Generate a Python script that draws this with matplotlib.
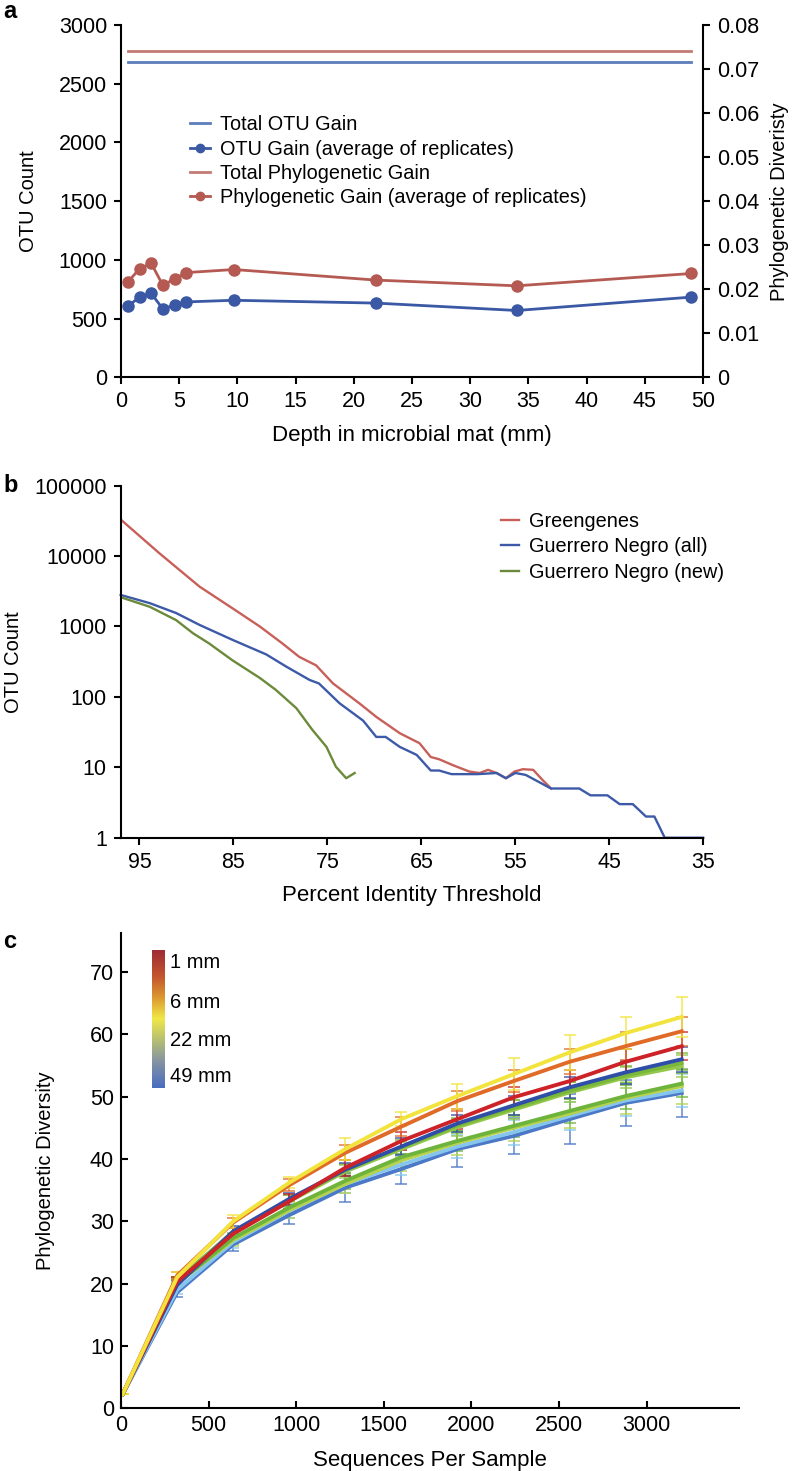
import numpy as np
import matplotlib
matplotlib.use("Agg")
import matplotlib.pyplot as plt
from matplotlib.colors import LinearSegmentedColormap, to_rgba
from matplotlib.lines import Line2D
from matplotlib.ticker import FixedLocator, FixedFormatter, NullLocator

plt.rcParams['font.family'] = ['Liberation Sans', 'DejaVu Sans']
plt.rcParams['font.size'] = 14

# ---- panel a: gain by depth ----
depth_mm = [0.6, 1.6, 2.6, 3.6, 4.6, 5.6, 9.7, 21.9, 34.0, 49.0]
otu_gain = [605, 686, 715, 583, 617, 643, 657, 633, 570, 684]
phylo_gain = [0.0217, 0.0247, 0.0259, 0.0209, 0.0224, 0.0238, 0.0245, 0.0221, 0.0208, 0.0236]
total_otu_gain = 2685
total_phylo_gain = 0.0741

# ---- panel b: OTU count vs identity threshold ----
gg_pid = [97, 92.9, 88.6, 85.1, 82.2, 79.8, 78.0, 76.2, 74.4, 71.6, 69.8, 67.3, 65.2,
          64.0, 63.1, 61.7, 59.9, 58.8, 57.9, 57.0, 56.0, 55.1, 54.2, 53.1, 52.1, 51.2]
gg_otu = [33000, 11000, 3670, 1810, 1000, 575, 370, 280, 155, 81, 52, 30.5, 22,
          14, 13, 10.8, 8.7, 8.3, 9.2, 8.3, 7.0, 8.7, 9.4, 9.2, 6.6, 5.0]
gn_all_pid = [97, 93.9, 91.1, 88.6, 85.1, 81.5, 79.4, 76.9, 75.9, 73.7, 71.2, 69.8, 68.8,
              67.3, 65.5, 64.0, 63.1, 61.8, 59.0, 57.0, 56.0, 55.0, 53.9, 51.2, 48.2, 47.0,
              45.2, 43.9, 42.5, 41.1, 40.2, 39.1, 35]
gn_all_otu = [2800, 2140, 1550, 1050, 645, 400, 270, 174, 155, 81, 46, 27, 27,
              19.5, 15, 9, 9, 8, 8, 8.3, 7, 8.3, 7.8, 5, 5, 4,
              4, 3, 3, 2, 2, 1, 1]
gn_new_pid = [97, 93.9, 91.1, 89.3, 87.6, 85.1, 82.2, 80.5, 78.3, 76.6, 75.1, 74.1, 73.0, 72.1]
gn_new_otu = [2600, 1900, 1230, 800, 575, 330, 186, 126, 69, 34, 19.5, 10.2, 7.0, 8.3]

# ---- panel c: rarefaction curves ----
seqs = [10, 320, 640, 960, 1280, 1600, 1920, 2240, 2560, 2880, 3200]
pd_blue = [2.3, 18.6, 26.3, 31.0, 35.4, 38.4, 41.6, 43.7, 46.4, 49.0, 50.6]
pd_lightblue = [2.3, 19.0, 26.7, 31.7, 36.0, 39.1, 42.0, 44.3, 46.9, 49.4, 51.0]
pd_yellowgreen = [2.3, 20.1, 27.0, 31.8, 36.0, 39.8, 42.6, 45.0, 47.3, 49.8, 51.7]
pd_lowgreen = [2.3, 20.0, 27.3, 32.2, 36.5, 40.3, 42.9, 45.3, 47.7, 50.1, 52.1]
pd_greenb = [2.3, 20.4, 28.1, 33.2, 38.0, 41.6, 45.1, 47.9, 50.7, 53.1, 54.9]
pd_greena = [2.3, 20.6, 28.3, 33.4, 38.2, 41.9, 45.4, 48.2, 51.0, 53.4, 55.4]
pd_darkblue = [2.3, 19.8, 28.4, 33.6, 38.3, 42.0, 45.7, 48.6, 51.5, 53.9, 56.0]
pd_red = [2.3, 20.3, 28.0, 33.2, 38.6, 42.9, 46.4, 49.9, 52.5, 55.6, 58.1]
pd_orange = [2.3, 21.3, 29.8, 35.8, 41.0, 45.2, 49.3, 52.5, 55.6, 58.1, 60.5]
pd_yellow = [2.3, 21.0, 30.0, 36.2, 41.6, 46.4, 50.1, 53.6, 57.1, 60.2, 62.8]

err_blue = [0, 0.8, 1.0, 1.4, 2.3, 2.4, 2.9, 2.9, 4.0, 3.7, 3.8]
err_lightblue = [0, 0.7, 0.9, 1.1, 1.4, 1.6, 1.8, 2.0, 2.3, 2.5, 2.7]
err_yellowgreen = [0, 0.8, 1.0, 1.3, 1.5, 1.7, 1.9, 2.1, 2.3, 2.5, 2.8]
err_lowgreen = [0, 0.7, 0.9, 1.1, 1.3, 1.5, 1.6, 1.8, 1.9, 2.1, 2.2]
err_greenb = [0, 0.6, 0.8, 1.0, 1.1, 1.2, 1.4, 1.5, 1.6, 1.7, 1.8]
err_greena = [0, 0.5, 0.7, 0.9, 1.0, 1.1, 1.2, 1.3, 1.4, 1.5, 1.6]
err_darkblue = [0, 0.6, 0.8, 1.0, 1.1, 1.3, 1.4, 1.5, 1.7, 1.8, 2.0]
err_red = [0, 0.7, 0.9, 1.2, 1.3, 1.5, 1.6, 1.7, 1.8, 2.0, 2.2]
err_orange = [0, 0.6, 0.8, 1.0, 1.2, 1.5, 1.6, 1.8, 2.0, 2.2, 2.3]
err_yellow = [0, 0.8, 1.0, 0.9, 1.7, 1.1, 2.0, 2.6, 2.8, 2.6, 3.2]

depth_labels = ['1 mm', '6 mm', '22 mm', '49 mm']

BLUE = '#3a58a4'
BLUE_L = '#5d7cbc'
RED = '#b45a52'
RED_L = '#c47a74'
SPW = 1.5
TICK_FS = 15.5
XLAB_FS = 16
YLAB_FS = 14.5
LEG_FS = 14.3


def style_axis(ax, direction='out'):
    for s in ['top', 'right']:
        ax.spines[s].set_visible(False)
    for s in ['left', 'bottom']:
        ax.spines[s].set_linewidth(SPW)
    ax.tick_params(direction=direction, length=5, width=SPW, labelsize=TICK_FS, pad=5)


fig = plt.figure(figsize=(7.96, 14.71), dpi=100)

# ================= a =================
ax_a = fig.add_axes([0.152, 0.7434, 0.7312, 0.2396])
ax_a2 = ax_a.twinx()
style_axis(ax_a)
ax_a2.spines['top'].set_visible(False)
ax_a2.spines['left'].set_visible(False)
ax_a2.spines['bottom'].set_visible(False)
ax_a2.spines['right'].set_linewidth(SPW)
ax_a2.tick_params(direction='out', length=5, width=SPW, labelsize=TICK_FS, pad=5)

ax_a.plot([depth_mm[0], depth_mm[-1]], [total_otu_gain] * 2, color=BLUE_L, lw=2)
ax_a.plot(depth_mm, otu_gain, color=BLUE, lw=2, marker='o', ms=8)
ax_a2.plot([depth_mm[0], depth_mm[-1]], [total_phylo_gain] * 2, color=RED_L, lw=2)
ax_a2.plot(depth_mm, phylo_gain, color=RED, lw=2, marker='o', ms=8)

ax_a.set_xlim(0, 50)
ax_a.set_ylim(0, 3000)
ax_a2.set_ylim(0, 0.08)
ax_a.set_xticks(np.arange(0, 51, 5))
ax_a.set_yticks(np.arange(0, 3001, 500))
ax_a2.set_yticks(np.arange(0, 0.081, 0.01))
ax_a2.set_yticklabels(['0'] + ['%.2f' % v for v in np.arange(0.01, 0.081, 0.01)])
ax_a.set_xlabel('Depth in microbial mat (mm)', fontsize=XLAB_FS)
ax_a.xaxis.set_label_coords(0.5, -0.135)
ax_a.set_ylabel('OTU Count', fontsize=YLAB_FS)
ax_a.yaxis.set_label_coords(-0.143, 0.5)
ax_a2.set_ylabel('Phylogenetic Diveristy', fontsize=YLAB_FS)
ax_a2.yaxis.set_label_coords(1.115, 0.5)

handles = [
    Line2D([], [], color=BLUE_L, lw=2),
    Line2D([], [], color=BLUE, lw=2, marker='o', ms=6),
    Line2D([], [], color=RED_L, lw=2),
    Line2D([], [], color=RED, lw=2, marker='o', ms=6),
]
labels = ['Total OTU Gain', 'OTU Gain (average of replicates)',
          'Total Phylogenetic Gain', 'Phylogenetic Gain (average of replicates)']
ax_a2.legend(handles, labels, loc='upper left', bbox_to_anchor=(0.105, 0.766),
             frameon=False, fontsize=LEG_FS, handlelength=1.0, handletextpad=0.5,
             labelspacing=0.26, borderaxespad=0)

# ================= b =================
ax_b = fig.add_axes([0.1516, 0.4305, 0.7319, 0.2394])
style_axis(ax_b)
ax_b.plot(gg_pid, gg_otu, color='#c8605a', lw=1.7, label='Greengenes')
ax_b.plot(gn_all_pid, gn_all_otu, color='#3d5aa8', lw=1.7, label='Guerrero Negro (all)',
          clip_on=False)
ax_b.plot(gn_new_pid, gn_new_otu, color='#6b8a3a', lw=1.7, label='Guerrero Negro (new)')
ax_b.set_yscale('log')
ax_b.set_ylim(1, 100000)
ax_b.set_xlim(97, 35)
ax_b.set_xticks(np.arange(95, 34, -10))
ax_b.yaxis.set_major_locator(FixedLocator([1, 10, 100, 1000, 10000, 100000]))
ax_b.yaxis.set_major_formatter(FixedFormatter(['1', '10', '100', '1000', '10000', '100000']))
ax_b.yaxis.set_minor_locator(NullLocator())
ax_b.set_xlabel('Percent Identity Threshold', fontsize=XLAB_FS)
ax_b.xaxis.set_label_coords(0.5, -0.134)
ax_b.set_ylabel('OTU Count', fontsize=YLAB_FS)
ax_b.yaxis.set_label_coords(-0.168, 0.5)
ax_b.legend(loc='upper left', bbox_to_anchor=(0.64, 0.948), frameon=False, fontsize=LEG_FS,
            handlelength=0.9, handletextpad=0.5, labelspacing=0.33, borderaxespad=0)

# ================= c =================
ax_c = fig.add_axes([0.152, 0.0426, 0.776, 0.3233])
style_axis(ax_c, direction='in')
series = [
    (pd_blue, err_blue, '#4c78c8'),
    (pd_lightblue, err_lightblue, '#86c6ee'),
    (pd_yellowgreen, err_yellowgreen, '#b4d24e'),
    (pd_lowgreen, err_lowgreen, '#6eb43c'),
    (pd_greenb, err_greenb, '#94c84c'),
    (pd_greena, err_greena, '#7ab83a'),
    (pd_darkblue, err_darkblue, '#2f4ea8'),
    (pd_red, err_red, '#cc2228'),
    (pd_orange, err_orange, '#e06a28'),
    (pd_yellow, err_yellow, '#f2e43c'),
]
for vals, err, col in series:
    ax_c.errorbar(seqs, vals, yerr=err, color=col, lw=2.8,
                  ecolor=to_rgba(col, 0.75), elinewidth=1.3, capsize=4, capthick=1.3)
ax_c.set_xlim(0, 3525)
ax_c.set_ylim(0, 76.3)
ax_c.set_xticks(np.arange(0, 3001, 500))
ax_c.set_yticks(np.arange(0, 71, 10))
ax_c.set_xlabel('Sequences Per Sample', fontsize=XLAB_FS)
ax_c.xaxis.set_label_coords(0.5, -0.088)
ax_c.set_ylabel('Phylogenetic Diversity', fontsize=YLAB_FS)
ax_c.yaxis.set_label_coords(-0.107, 0.5)

# depth colour bar
cmap = LinearSegmentedColormap.from_list('depth', [
    (0.0, '#9e2a35'), (0.2, '#c4572e'), (0.35, '#dc9a30'), (0.5, '#f0e848'),
    (0.65, '#b8c070'), (0.8, '#8896a0'), (1.0, '#4a6ec0')])
cax = fig.add_axes([152 / 796, 1 - 1088 / 1471, 13 / 796, 138 / 1471])
cax.imshow(np.linspace(0, 1, 200).reshape(-1, 1), aspect='auto', cmap=cmap)
cax.set_axis_off()
for lab, ypx in zip(depth_labels, [963, 1002, 1040, 1077]):
    fig.text(170 / 796, 1 - ypx / 1471, lab, fontsize=14.5, va='center', ha='left')

# panel letters
fig.text(0.004, 1 - 11 / 1471, 'a', fontsize=17, fontweight='bold', va='center')
fig.text(0.004, 1 - 485 / 1471, 'b', fontsize=17, fontweight='bold', va='center')
fig.text(0.004, 1 - 942 / 1471, 'c', fontsize=17, fontweight='bold', va='center')

fig.savefig('out.png', dpi=100)
